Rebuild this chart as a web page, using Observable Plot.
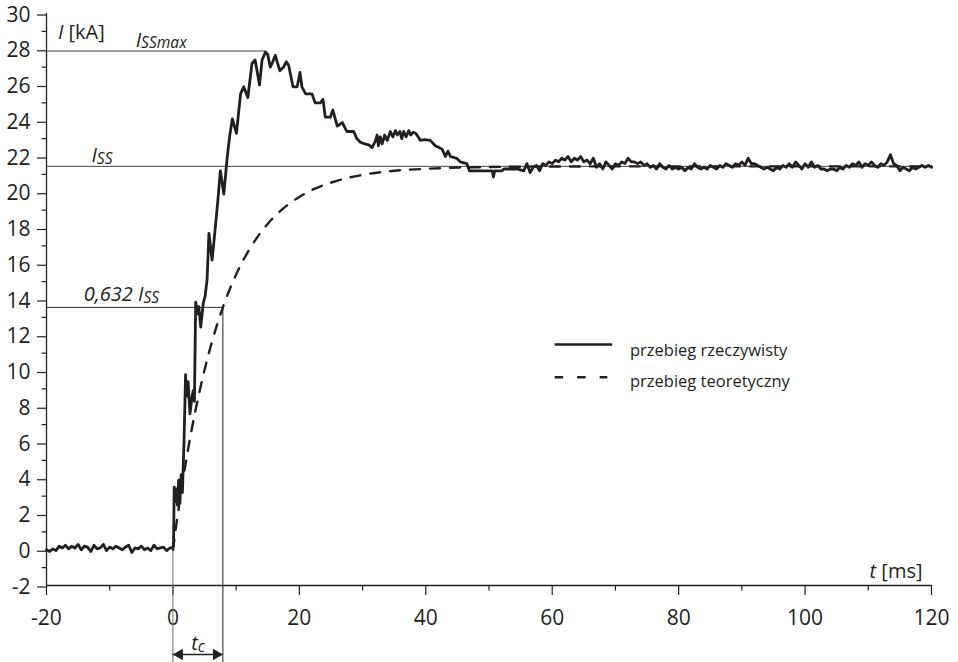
<!DOCTYPE html>
<html>
<head>
<meta charset="utf-8">
<script src="https://cdn.jsdelivr.net/npm/d3@7"></script>
<script src="https://cdn.jsdelivr.net/npm/@observablehq/plot@0.6"></script>
<style>
  html, body { margin: 0; padding: 0; background: #fff; }
  #chart svg { display: block; }
</style>
</head>
<body>
<div id="chart"></div>
<script>
// ---- tick labels ----
const xTicks = [-20, 0, 20, 40, 60, 80, 100, 120];
const xMinorTicks = [-10, 10, 30, 50, 70, 90, 110];
const yTicks = [-2, 0, 2, 4, 6, 8, 10, 12, 14, 16, 18, 20, 22, 24, 26, 28, 30];
const yMinorTicks = [-1, 1, 3, 5, 7, 9, 11, 13, 15, 17, 19, 21, 23, 25, 27, 29];

// ---- characteristic values ----
const Iss = 21.45;        // steady-state current [kA]
const IssMax = 27.9;      // peak current [kA]
const tPeak = 14.75;      // time of peak [ms]
const tc = 7.9;           // time constant [ms]
const Itc = 13.56;        // 0,632 Iss [kA]

// ---- measured waveform (przebieg rzeczywisty) ----
// baseline, sampled every 0.5 ms from -20 to -0.5 ms
const baseT = d3.range(-20, 0, 0.5);
const baseI = [0.0, -0.1, 0.05, -0.05, 0.2, 0.1, 0.25, 0.05, 0.2, 0.1,
               0.3, 0.0, 0.2, 0.15, -0.1, 0.25, 0.05, 0.1, 0.3, -0.05,
               0.15, 0.05, 0.2, 0.1, 0.0, 0.15, 0.25, -0.15, 0.1, 0.05,
               0.2, 0.0, 0.1, -0.05, 0.25, 0.05, 0.1, 0.15, -0.05, 0.1];
// rise, peak and decay
const riseT = [0, 0.1, 0.2, 0.35, 0.5, 0.7, 0.9, 1.1, 1.3, 1.5,
               1.75, 2.0, 2.2, 2.4, 2.7, 3.0, 3.2, 3.4, 3.6, 3.9,
               4.1, 4.4, 4.8, 5.1, 5.4, 5.7, 6.2, 6.75, 7.1, 7.5,
               8.05, 8.6, 9.0, 9.4, 10.05, 10.7, 11.2, 11.85, 12.5, 13.0,
               13.7, 14.1, 14.65, 15.0, 15.4, 15.8, 16.2, 16.9, 17.5, 17.95,
               18.3, 19.0, 19.65, 20.1, 20.4, 21.0, 22.0, 22.5, 23.3, 23.75,
               24.1, 24.9, 25.3, 26.0, 26.8, 27.5, 28.6, 29.1, 29.65, 30.4,
               31.0, 31.5, 32.0, 32.3, 32.5, 32.8, 33.1, 33.5, 33.9, 34.4,
               34.8, 35.2, 35.5, 35.9, 36.2, 36.5, 36.9, 37.3, 37.6, 38.0,
               38.4, 38.8, 39.1, 39.8, 40.7, 41.5, 42.1, 42.6, 43.1, 43.5,
               43.9, 44.9, 45.45, 46.5, 46.9];
const riseI = [0.1, 0.4, 3.5, 2.7, 3.4, 2.5, 3.9, 2.6, 4.2, 3.2,
               6.0, 9.8, 8.6, 9.4, 7.6, 8.5, 8.9, 8.3, 13.85, 13.2,
               13.6, 12.45, 13.8, 14.2, 15.1, 17.7, 16.2, 18.2, 19.5, 21.2,
               19.9, 22.0, 23.2, 24.1, 23.3, 25.5, 25.9, 25.3, 27.2, 27.4,
               26.0, 27.4, 27.85, 27.7, 27.0, 27.3, 27.66, 26.8, 27.0, 27.3,
               27.1, 25.9, 25.9, 26.7, 25.9, 25.5, 25.5, 25.0, 25.0, 25.2,
               24.2, 24.2, 24.6, 23.7, 23.9, 23.4, 23.4, 23.0, 22.8, 22.7,
               22.65, 22.5, 22.85, 23.2, 22.6, 23.1, 22.7, 23.2, 22.9, 23.4,
               23.1, 23.45, 23.2, 23.4, 23.0, 23.4, 23.1, 23.45, 23.2, 23.35,
               23.3, 23.1, 22.9, 22.95, 22.9, 22.6, 22.5, 22.4, 22.0, 22.3,
               22.0, 21.9, 21.7, 21.6, 21.2];
// settling step
const stepT = [47.5, 48.5, 49.5, 50.5, 50.7, 50.9, 52.0, 52.4, 54.5, 55.0];
const stepI = [21.2, 21.2, 21.2, 21.2, 20.85, 21.2, 21.2, 21.3, 21.3, 21.25];
// steady state, sampled every 0.5 ms from 55.5 to 120 ms
const plateauT = d3.range(55.5, 120.25, 0.5);
const plateauI = [21.2, 21.6, 21.1, 21.4, 21.5, 21.2, 21.6, 21.5, 21.7, 21.6,
                  21.8, 21.7, 21.9, 21.8, 22.0, 21.7, 21.9, 21.8, 22.0, 21.7,
                  21.8, 21.6, 21.9, 21.4, 21.6, 21.3, 21.7, 21.5, 21.3, 21.6,
                  21.5, 21.7, 21.6, 21.9, 21.7, 21.7, 21.6, 21.7, 21.5, 21.6,
                  21.4, 21.5, 21.3, 21.6, 21.4, 21.3, 21.5, 21.3, 21.4, 21.3,
                  21.4, 21.2, 21.4, 21.3, 21.6, 21.4, 21.3, 21.4, 21.3, 21.5,
                  21.4, 21.3, 21.5, 21.4, 21.6, 21.5, 21.4, 21.6, 21.5, 21.7,
                  21.5, 21.9, 21.6, 21.6, 21.5, 21.4, 21.3, 21.4, 21.3, 21.2,
                  21.4, 21.3, 21.5, 21.4, 21.6, 21.4, 21.7, 21.5, 21.3, 21.6,
                  21.4, 21.7, 21.4, 21.5, 21.3, 21.3, 21.2, 21.3, 21.3, 21.2,
                  21.4, 21.3, 21.5, 21.4, 21.6, 21.5, 21.7, 21.4, 21.6, 21.5,
                  21.7, 21.5, 21.4, 21.6, 21.5, 21.7, 22.1, 21.6, 21.5, 21.2,
                  21.4, 21.3, 21.2, 21.4, 21.3, 21.4, 21.5, 21.4, 21.5, 21.4];

// ---- theoretical waveform (przebieg teoretyczny) ----
const theoT = [0, 1, 2, 3, 4, 5, 6, 7, 8, 9, 10, 12, 14, 16, 18, 20, 22, 25, 28, 30, 35, 40, 45, 50, 60, 80, 100, 120];
const theoI = [0, 2.55, 4.80, 6.78, 8.52, 10.06, 11.41, 12.61, 13.66, 14.59, 15.40, 16.75, 17.80, 18.62, 19.25,
               19.74, 20.13, 20.54, 20.83, 20.97, 21.20, 21.31, 21.38, 21.41, 21.44, 21.45, 21.45, 21.45];

// ---- legend ----
const seriesNames = ["przebieg rzeczywisty", "przebieg teoretyczny"];

// ---- build tables ----
const measuredT = [...baseT, ...riseT, ...stepT, ...plateauT];
const measuredI = [...baseI, ...riseI, ...stepI, ...plateauI];
const measured = measuredT.map((t, k) => ({t, i: measuredI[k]}));
const theoretical = theoT.map((t, k) => ({t, i: theoI[k]}));

const ink = "#231f20";
const font = "'Open Sans', 'Noto Sans', sans-serif";
const fmt = d => String(d);

const plot = Plot.plot({
  width: 958,
  height: 662,
  marginLeft: 46,
  marginRight: 27,
  marginTop: 13,
  marginBottom: 77,
  x: {domain: [-20, 120]},
  y: {domain: [-2, 30]},
  style: {fontFamily: font, color: ink, background: "#fff", overflow: "visible"},
  marks: [
    // axes
    Plot.axisX(xMinorTicks, {tickSize: 5.5, tickFormat: () => "", label: null, strokeWidth: 1.2}),
    Plot.axisX(xTicks, {tickSize: 10, tickPadding: 15, tickFormat: fmt, fontSize: 21, label: null, strokeWidth: 1.2}),
    Plot.axisY(yMinorTicks, {tickSize: 4.5, tickFormat: () => "", label: null, strokeWidth: 1.2}),
    Plot.axisY(yTicks, {tickSize: 9, tickPadding: 7, tickFormat: fmt, fontSize: 21, dy: 1.5, label: null, strokeWidth: 1.2}),
    Plot.ruleY([-2], {x1: -20, x2: 120, stroke: ink, strokeWidth: 1.3}),
    Plot.ruleX([-20], {y1: -2, y2: 30, stroke: ink, strokeWidth: 1.3}),

    // reference lines
    Plot.ruleY([IssMax], {x1: -20, x2: tPeak, stroke: "#444", strokeWidth: 1}),
    Plot.ruleY([Iss], {x1: -20, x2: 120, stroke: "#444", strokeWidth: 1}),
    Plot.ruleY([Itc], {x1: -20, x2: tc, stroke: "#333", strokeWidth: 1}),
    Plot.ruleX([0], {y1: 0.3, y2: -6.4, stroke: "#6d6d6d", strokeWidth: 1}),
    Plot.ruleX([tc], {y1: Itc, y2: -6.4, stroke: ink, strokeWidth: 1}),

    // t_c dimension arrow
    Plot.ruleY([-5.86], {x1: 0, x2: tc, stroke: ink, strokeWidth: 1.3}),
    Plot.dot([0], {x: d => d, y: -5.86, symbol: "triangle", rotate: -90, r: 4.3, fill: ink, stroke: null, dx: 6.6}),
    Plot.dot([tc], {x: d => d, y: -5.86, symbol: "triangle", rotate: 90, r: 4.3, fill: ink, stroke: null, dx: -6.6}),

    // curves
    Plot.line(theoretical, {x: "t", y: "i", curve: "monotone-x", stroke: ink, strokeWidth: 2.4, strokeDasharray: "10,10"}),
    Plot.line(measured, {x: "t", y: "i", stroke: ink, strokeWidth: 2.8, strokeLinejoin: "round"}),

    // legend
    Plot.ruleY([11.48], {x1: 60.46, x2: 69.57, stroke: ink, strokeWidth: 2.4}),
    Plot.ruleY([9.65], {x1: 60.46, x2: 68.8, stroke: ink, strokeWidth: 2.4, strokeDasharray: "8.5,14"}),
    Plot.text(seriesNames, {x: 72.3, y: [10.86, 9.13], text: d => d, textAnchor: "start", lineAnchor: "bottom", fontSize: 16.5, fill: ink}),

    // annotations
    Plot.text(["*I* [kA]", "*t* [ms]"], {x: [-18.2, 110.2], y: [28.6, -1.59], text: d => d, textAnchor: "start", lineAnchor: "bottom", fontSize: 20, fill: ink}),
    Plot.text(["I_{SSmax}", "I_{SS}", "0,632 I_{SS}", "t_{c}"], {
      x: [-5.9, -12.9, -14.1, 2.9], y: [28.15, 21.69, 13.9, -5.6], text: d => d,
      textAnchor: "start", lineAnchor: "bottom", fontSize: 20, fontStyle: "italic", fill: ink
    })
  ]
});

// rich text: *italic* and _{subscript}
d3.select(plot).selectAll("text").each(function () {
  const s = this.textContent;
  if (!/[*_]/.test(s)) return;
  const parts = s.split(/(\*[^*]+\*|_\{[^}]+\})/).filter(p => p);
  this.textContent = "";
  for (const p of parts) {
    const ts = d3.select(this).append("tspan");
    if (p.startsWith("*")) ts.text(p.slice(1, -1)).attr("font-style", "italic");
    else if (p.startsWith("_{")) ts.text(p.slice(2, -1)).attr("font-size", "0.78em").attr("dy", "0.12em");
    else ts.text(p);
  }
});

document.getElementById("chart").appendChild(plot);
</script>
</body>
</html>
